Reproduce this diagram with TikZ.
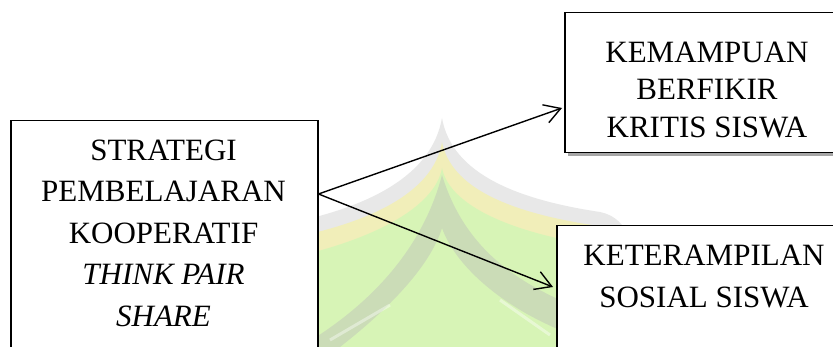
\documentclass[tikz,border=0pt]{standalone}
\usepackage{fontspec}
\setmainfont{Liberation Serif}
\usetikzlibrary{arrows.meta,shadows}
\tikzset{
  box/.style={draw=black, line width=1.5pt, fill=white, inner sep=0pt, anchor=north west},
  txt/.style={align=center, inner sep=0pt, anchor=north, font=\fontsize{31}{#1}\selectfont},
  conn/.style={line width=1.4pt, -{Straight Barb[length=16pt,width=19pt,line width=1.4pt]}},
  wm/.style={opacity=0.4}
}
\begin{document}
\begin{tikzpicture}[x=1pt,y=-1pt]
\useasboundingbox (0,0) rectangle (833,347);
\clip (0,0) rectangle (833,347);
\fill[white] (0,0) rectangle (833,347);
% faint watermark
\begin{scope}[wm]
\fill[gray!45] (280,225) .. controls (370,208) and (432,175) .. (442,118) .. controls (452,175) and (520,200) .. (600,212) .. controls (615,215) and (625,225) .. (630,240) -- (630,347) -- (280,347) -- cycle;
\fill[yellow!55] (280,240) .. controls (370,224) and (434,192) .. (442,142) .. controls (452,192) and (520,218) .. (630,230) -- (630,347) -- (280,347) -- cycle;
\fill[green!30] (280,260) .. controls (370,242) and (435,208) .. (442,168) .. controls (450,208) and (520,238) .. (630,250) -- (630,347) -- (280,347) -- cycle;
\fill[gray!55] (442,175) .. controls (425,240) and (380,300) .. (300,347) -- (340,347) .. controls (400,300) and (432,260) .. (442,228) .. controls (455,265) and (500,305) .. (560,330) -- (560,300) .. controls (505,275) and (462,240) .. cycle;
\draw[white, line width=3pt] (330,340) -- (390,305);
\draw[white, line width=3pt] (500,300) -- (550,335);
\end{scope}
% boxes
\node[box, minimum width=307, minimum height=300] (L) at (10,120) {};
\node[box, minimum width=286, minimum height=140,
      drop shadow={shadow xshift=3pt, shadow yshift=-3pt, fill=gray!70, opacity=1}] (R1) at (564,12) {};
\node[box, minimum width=296, minimum height=200] (R2) at (556,225) {};
% texts
\node[txt=41.5] (Lt) at (163.5,139.5) {STRATEGI\\PEMBELAJARAN\\KOOPERATIF\\\textit{THINK PAIR}\\\textit{SHARE}};
\node[txt=37.5] (R1t) at (707,41.5) {KEMAMPUAN\\BERFIKIR\\KRITIS SISWA};
\node[txt=42] (R2t) at (704,244.5) {KETERAMPILAN\\SOSIAL SISWA};
% connectors
\coordinate (S) at ([yshift=-74pt]L.north east);
\coordinate (E1) at ([yshift=-96pt]R1.north west);
\coordinate (E2) at ([yshift=-62pt]R2.north west);
\draw[conn] (S) -- ([xshift=-2pt]E1);
\draw[conn] (S) -- ([xshift=-3pt]E2);
\end{tikzpicture}
\end{document}
